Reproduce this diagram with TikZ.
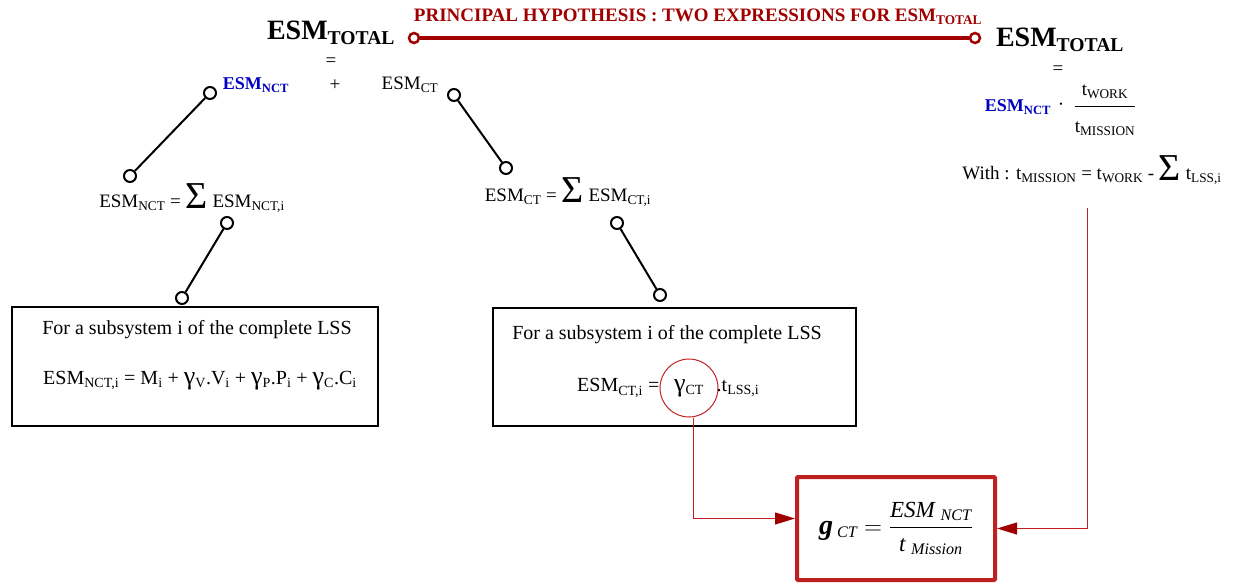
\documentclass[tikz,border=0pt]{standalone}
\usepackage{fontspec}
\usepackage{amsmath}
\setmainfont{Liberation Serif}
\usetikzlibrary{arrows.meta,positioning}

\definecolor{hypred}{HTML}{A00000}
\definecolor{linkred}{HTML}{C02020}
\definecolor{nctblue}{HTML}{0000C0}

\newcommand{\sz}[1]{\fontsize{#1}{#1}\selectfont}
\newcommand{\bigsum}{\raisebox{-1pt}{\sz{38}Σ}}
\newcommand{\gam}{{\sz{26}γ}}

\begin{document}
\begin{tikzpicture}[x=1pt,y=-1pt,
    txt/.style={font=\sz{19},inner sep=0pt},
    boxtxt/.style={font=\sz{20},inner sep=0pt},
    pin/.style={circle,draw,line width=2pt,fill=white,minimum size=12pt,inner sep=0pt},
    link/.style={line width=2pt},
    lssbox/.style={draw,line width=2pt,minimum width=366pt,minimum height=119pt},
    redlink/.style={draw=linkred,line width=1pt,-{Triangle[length=20pt,width=12pt,color=hypred]}}]
    \useasboundingbox (0,0) rectangle (1236,586);

    % Top - principal hypothesis
    \node[font=\bfseries\sz{28},inner sep=0pt] (totL) at (331,33) {ESM\textsubscript{TOTAL}};
    \node[font=\bfseries\sz{19},text=hypred,inner sep=0pt] (hyp) at (698,17)
        {PRINCIPAL HYPOTHESIS : TWO EXPRESSIONS FOR ESM\textsubscript{TOTAL}};
    \node[pin,draw=hypred,minimum size=10pt,line width=2.5pt] (hl) at (414,38) {};
    \node[pin,draw=hypred,minimum size=10pt,line width=2.5pt] (hr) at (975,38) {};
    \draw[hypred,line width=4pt] (hl) -- (hr);
    \node[font=\bfseries\sz{28},inner sep=0pt] (totR) at (1060,40) {ESM\textsubscript{TOTAL}};

    % Left side - first expression
    \node[txt] (eqL) at (331,62) {=};
    \node[font=\bfseries\sz{18},text=nctblue,inner sep=0pt] (nct) at (256,85) {ESM\textsubscript{NCT}};
    \node[txt] (plus) at (335,85) {+};
    \node[txt] (ct) at (410,85) {ESM\textsubscript{CT}};

    \node[pin] (p1a) at (210,93) {};
    \node[pin] (p1b) at (130,176) {};
    \draw[link] (p1a) -- (p1b);
    \node[pin] (p2a) at (454,95) {};
    \node[pin] (p2b) at (506,168) {};
    \draw[link] (p2a) -- (p2b);

    \node[txt] (sumNCT) at (192,198) {ESM\textsubscript{NCT} = \bigsum{} ESM\textsubscript{NCT,i}};
    \node[txt] (sumCT) at (568,192) {ESM\textsubscript{CT} = \bigsum{} ESM\textsubscript{CT,i}};

    \node[pin] (p3a) at (227,223) {};
    \node[pin] (p3b) at (182,298) {};
    \draw[link] (p3a) -- (p3b);
    \node[pin] (p4a) at (617,223) {};
    \node[pin] (p4b) at (660,295) {};
    \draw[link] (p4a) -- (p4b);

    % Subsystem boxes
    \node[lssbox] (boxNCT) at (195,366) {};
    \node[boxtxt] (subNCT) at (197,330) {For a subsystem i of the complete LSS};
    \node[boxtxt] (esmNCT) at (200,381) {ESM\textsubscript{NCT,i} = M\textsubscript{i} + \gam\textsubscript{V}.V\textsubscript{i} + \gam\textsubscript{P}.P\textsubscript{i} + \gam\textsubscript{C}.C\textsubscript{i}};

    \node[lssbox,minimum width=363pt,minimum height=118pt] (boxCT) at (674.5,366.5) {};
    \node[boxtxt] (subCT) at (667,335) {For a subsystem i of the complete LSS};
    \node[boxtxt,circle,draw=linkred,line width=1pt,minimum size=58pt] (gam) at (689,388) {\gam\textsubscript{CT}};
    \node[boxtxt,anchor=east] (esmCT) at (gam.west) {ESM\textsubscript{CT,i} =};
    \node[boxtxt,anchor=west] (tlss) at ([xshift=-2pt]gam.east) {.t\textsubscript{LSS,i}};

    % Right side - second expression
    \node[txt] (eqR) at (1058,70) {=};
    \node[font=\bfseries\sz{18},text=nctblue,inner sep=0pt] (nctR) at (1018,107) {ESM\textsubscript{NCT}};
    \node[txt] (dot) at (1061,107) {·};
    \node[txt] (frac) at (1105,110) {$\dfrac{\text{\rule[-8pt]{0pt}{8pt}t\textsubscript{WORK}}}{\text{\rule{0pt}{24pt}t\textsubscript{MISSION}}}$};
    \node[txt] (with) at (1092,170) {With : t\textsubscript{MISSION} = t\textsubscript{WORK} - \bigsum{} t\textsubscript{LSS,i}};
    \coordinate (wtop) at (1087,208);

    % Result box
    \node[draw=linkred,line width=4pt,minimum width=198pt,minimum height=103pt,rounded corners=1pt] (gbox) at (896,528.5)
        {\sz{23}$\text{{\sz{28}\bfseries\itshape g}\,\itshape\textsubscript{CT}} = \dfrac{\text{\itshape ESM \textsubscript{NCT}}}{\text{\itshape t \textsubscript{Mission}}}$};

    \draw[redlink] ([xshift=4pt]gam.south) |- ([yshift=10pt]gbox.west);
    \draw[redlink] (wtop) |- (gbox.east);
\end{tikzpicture}
\end{document}
